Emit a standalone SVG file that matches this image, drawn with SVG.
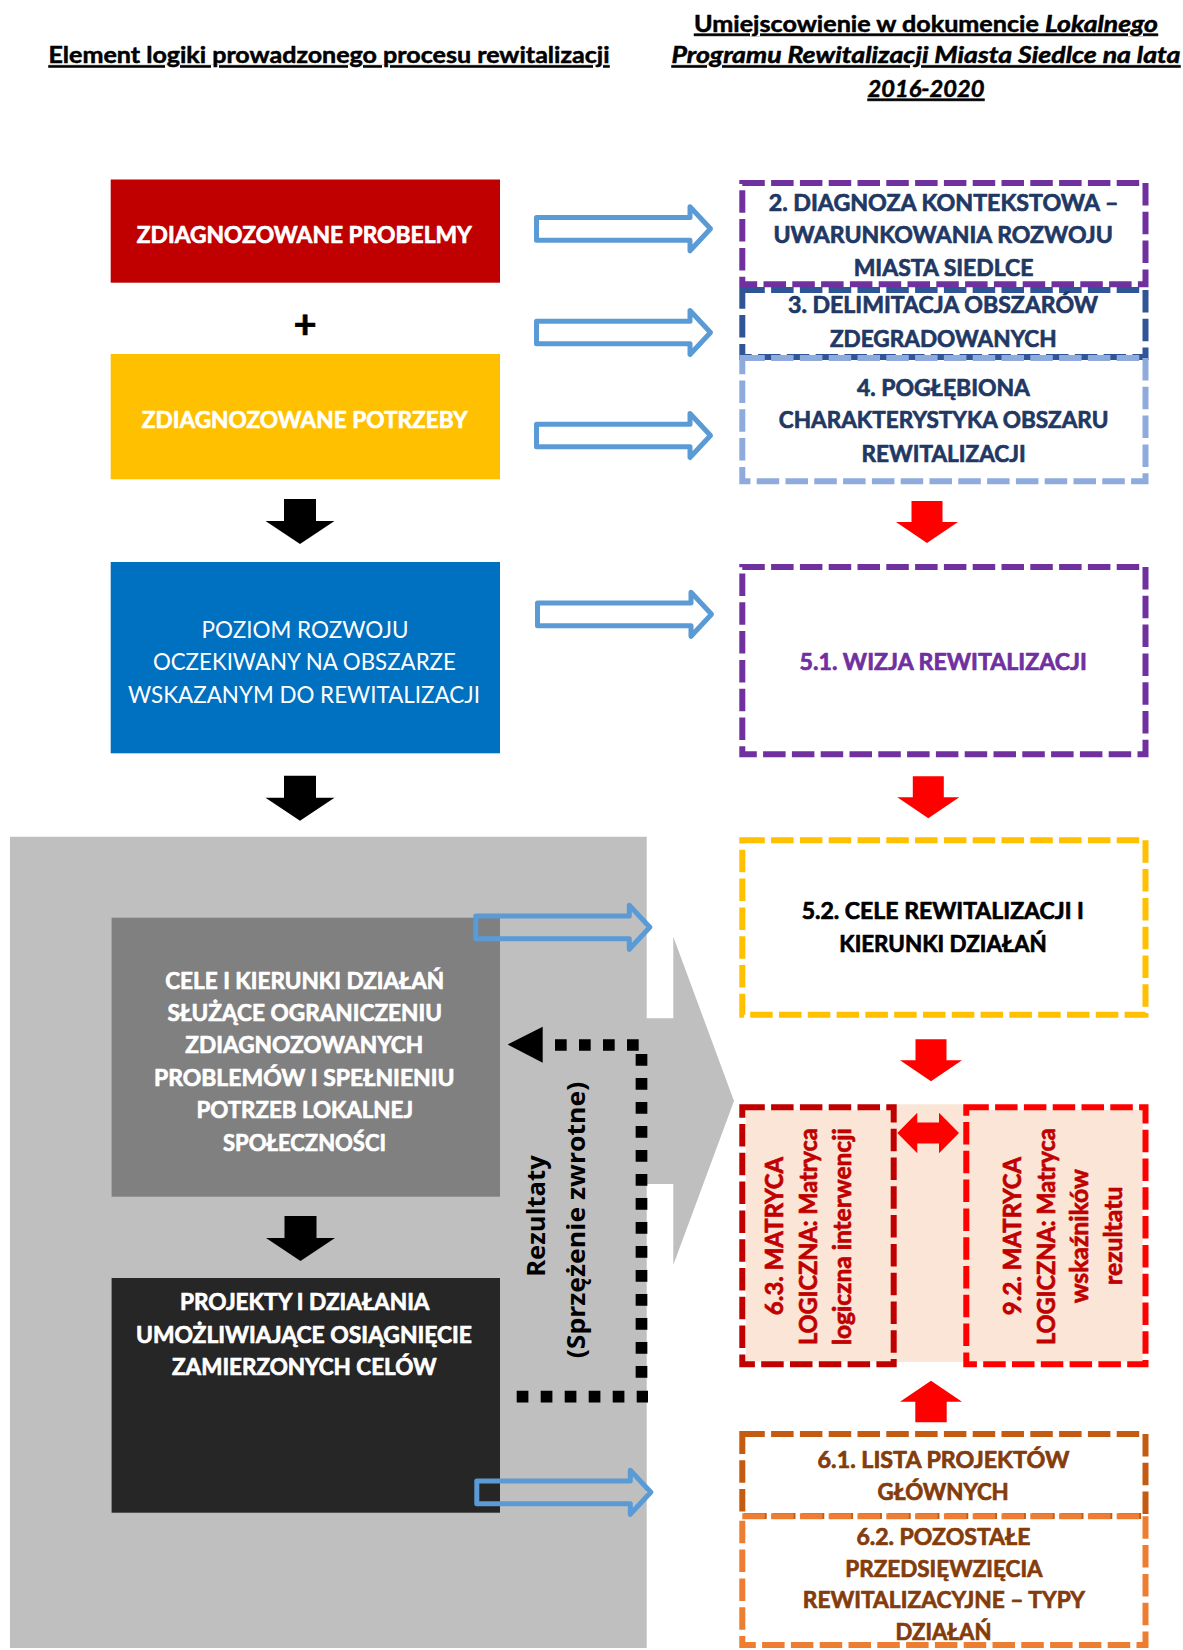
<svg xmlns="http://www.w3.org/2000/svg" xmlns:xlink="http://www.w3.org/1999/xlink" width="1183" height="1650" viewBox="0 0 1183 1650">
<style>
.t{font-family:Lato,"Open Sans","Liberation Sans",sans-serif;font-size:22.5px;font-weight:700;text-anchor:middle;stroke-width:0.7;stroke-linejoin:round}
.w{fill:#ffffff;stroke:#ffffff}
.reg{font-weight:400;stroke:none}
.hd{font-size:22px;text-decoration:underline;text-decoration-skip-ink:none;fill:#000;stroke:#000;stroke-width:0.5}
.it{font-style:italic}
.navy{fill:#1F3864;stroke:#1F3864}
.pur{fill:#7030A0;stroke:#7030A0}
.blk{fill:#000;stroke:#000}
.mx{font-size:24px;fill:#C00000;stroke:#C00000}
.br{fill:#843C0C;stroke:#843C0C}
.rz{font-family:"Open Sans",Lato,sans-serif;font-size:25px;font-weight:700;text-anchor:middle;fill:#000}
.box{fill:none;stroke-width:6;stroke-dasharray:22.5 6.3}
.ba{fill:none;stroke:#5B9BD5;stroke-width:5;stroke-linejoin:round}
.dot{fill:none;stroke:#000;stroke-width:11.7;stroke-dasharray:11.7 12.3}
</style>
<defs>
<path id="ba" d="M2.5,-11.35 H156 V-22 L176.5,0 L156,22 V11.35 H2.5 Z"/>
<polygon id="bd" points="-16,0 16,0 16,22 34.5,22 0,45 -34.5,22 -16,22"/>
<polygon id="rd" points="-15.5,0 15.5,0 15.5,21 31,21 0,42 -31,21 -15.5,21"/>
</defs>
<rect width="1183" height="1650" fill="#ffffff"/>

<g id="headings">
<text class="t hd" x="329" y="63.3" textLength="561" lengthAdjust="spacingAndGlyphs">Element logiki prowadzonego procesu rewitalizacji</text>
<text class="t hd" x="694" y="31.7" style="text-anchor:start"><tspan textLength="351" lengthAdjust="spacingAndGlyphs">Umiejscowienie w dokumencie </tspan><tspan class="it" x="1045" textLength="113" lengthAdjust="spacingAndGlyphs">Lokalnego</tspan></text>
<text class="t hd it" x="926" y="63.3" textLength="509" lengthAdjust="spacingAndGlyphs">Programu Rewitalizacji Miasta Siedlce na lata</text>
<text class="t hd it" x="926" y="96.7" textLength="117" lengthAdjust="spacingAndGlyphs">2016-2020</text>
</g>

<g id="gray-area">
<path d="M10,836.7 H646.7 V1018.3 H673.3 V936.7 L734,1101 L673.3,1265 V1184 H646.7 V1648 H10 Z" fill="#BFBFBF"/>
</g>

<g id="problemy">
<rect x="110.7" y="179.5" width="389.3" height="103.2" fill="#C00000"/>
<text class="t w" x="304.3" y="242.7" textLength="335" lengthAdjust="spacingAndGlyphs">ZDIAGNOZOWANE PROBELMY</text>
</g>
<g id="plus">
<text class="t blk" x="305" y="338" style="font-size:40px">+</text>
</g>
<g id="potrzeby">
<rect x="110.7" y="354" width="389.3" height="125.3" fill="#FFC000"/>
<text class="t w" x="304.8" y="428.3" textLength="326" lengthAdjust="spacingAndGlyphs">ZDIAGNOZOWANE POTRZEBY</text>
</g>
<g id="poziom">
<rect x="110.7" y="562" width="389.3" height="191.3" fill="#0070C0"/>
<text class="t w reg" x="305" y="637.7" textLength="207" lengthAdjust="spacingAndGlyphs">POZIOM ROZWOJU</text>
<text class="t w reg" x="304.4" y="670" textLength="303" lengthAdjust="spacingAndGlyphs">OCZEKIWANY NA OBSZARZE</text>
<text class="t w reg" x="304" y="702.7" textLength="352" lengthAdjust="spacingAndGlyphs">WSKAZANYM DO REWITALIZACJI</text>
</g>
<g id="cele">
<rect x="111.6" y="917.7" width="388.4" height="279" fill="#808080"/>
<text class="t w" x="304.7" y="989.3" textLength="279" lengthAdjust="spacingAndGlyphs">CELE I KIERUNKI DZIAŁAŃ</text>
<text class="t w" x="304.7" y="1021" textLength="274.6" lengthAdjust="spacingAndGlyphs">SŁUŻĄCE OGRANICZENIU</text>
<text class="t w" x="304.3" y="1053.3" textLength="238" lengthAdjust="spacingAndGlyphs">ZDIAGNOZOWANYCH</text>
<text class="t w" x="304.3" y="1085.7" textLength="300.5" lengthAdjust="spacingAndGlyphs">PROBLEMÓW I SPEŁNIENIU</text>
<text class="t w" x="304.7" y="1118.3" textLength="216.6" lengthAdjust="spacingAndGlyphs">POTRZEB LOKALNEJ</text>
<text class="t w" x="304.5" y="1150.7" textLength="163" lengthAdjust="spacingAndGlyphs">SPOŁECZNOŚCI</text>
</g>
<g id="projekty">
<rect x="111.6" y="1278" width="388.4" height="234.7" fill="#262626"/>
<text class="t w" x="304.8" y="1310" textLength="249.5" lengthAdjust="spacingAndGlyphs">PROJEKTY I DZIAŁANIA</text>
<text class="t w" x="304" y="1342.7" textLength="336" lengthAdjust="spacingAndGlyphs">UMOŻLIWIAJĄCE OSIĄGNIĘCIE</text>
<text class="t w" x="304.3" y="1375" textLength="264.6" lengthAdjust="spacingAndGlyphs">ZAMIERZONYCH CELÓW</text>
</g>

<g id="rezultaty">
<text class="rz" transform="translate(545,1216) rotate(-90)" textLength="121.7" lengthAdjust="spacingAndGlyphs">Rezultaty</text>
<text class="rz" transform="translate(585,1220) rotate(-90)" textLength="276.6" lengthAdjust="spacingAndGlyphs">(Sprzężenie zwrotne)</text>
</g>

<g id="box3">
<rect class="box" x="742.3" y="290" width="403.2" height="67" stroke="#2F5597"/>
<text class="t navy" x="943" y="313.3" textLength="310" lengthAdjust="spacingAndGlyphs">3. DELIMITACJA OBSZARÓW</text>
<text class="t navy" x="943.3" y="346.7" textLength="226.7" lengthAdjust="spacingAndGlyphs">ZDEGRADOWANYCH</text>
</g>
<g id="box2">
<rect class="box" x="742.3" y="183" width="403.2" height="101.3" stroke="#7030A0"/>
<text class="t navy" x="943.6" y="210.7" textLength="349.8" lengthAdjust="spacingAndGlyphs">2. DIAGNOZA KONTEKSTOWA –</text>
<text class="t navy" x="943.2" y="242.7" textLength="339.4" lengthAdjust="spacingAndGlyphs">UWARUNKOWANIA ROZWOJU</text>
<text class="t navy" x="943.6" y="276" textLength="179.9" lengthAdjust="spacingAndGlyphs">MIASTA SIEDLCE</text>
</g>
<g id="box4">
<rect class="box" x="742.3" y="358" width="403.2" height="123.3" stroke="#8FAADC"/>
<text class="t navy" x="943.5" y="395.7" textLength="173" lengthAdjust="spacingAndGlyphs">4. POGŁĘBIONA</text>
<text class="t navy" x="943.6" y="428.3" textLength="329.7" lengthAdjust="spacingAndGlyphs">CHARAKTERYSTYKA OBSZARU</text>
<text class="t navy" x="943.6" y="461.7" textLength="164.2" lengthAdjust="spacingAndGlyphs">REWITALIZACJI</text>
</g>
<g id="wizja">
<rect class="box" x="742.3" y="567" width="403.2" height="187.3" stroke="#7030A0"/>
<text class="t pur" x="943.2" y="670" textLength="287.2" lengthAdjust="spacingAndGlyphs">5.1. WIZJA REWITALIZACJI</text>
</g>
<g id="cele-rew">
<rect class="box" x="742.3" y="840.3" width="403.2" height="174.4" stroke="#FFC000"/>
<text class="t blk" x="942.8" y="919.3" textLength="282.3" lengthAdjust="spacingAndGlyphs">5.2. CELE REWITALIZACJI I</text>
<text class="t blk" x="943" y="952.3" textLength="207.4" lengthAdjust="spacingAndGlyphs">KIERUNKI DZIAŁAŃ</text>
</g>
<g id="matryce-tlo">
<rect x="745.7" y="1110" width="397" height="251.7" fill="#FBE5D6"/>
<rect x="893" y="1104.3" width="73" height="257.4" fill="#FBE5D6"/>
</g>
<g id="matryca-63">
<rect class="box" x="742.3" y="1107.3" width="151.4" height="257" stroke="#C00000"/>
<text class="t mx" transform="translate(783.3,1236) rotate(-90)" textLength="158.3" lengthAdjust="spacingAndGlyphs">6.3. MATRYCA</text>
<text class="t mx" transform="translate(817.3,1236.7) rotate(-90)" textLength="216.7" lengthAdjust="spacingAndGlyphs">LOGICZNA: Matryca</text>
<text class="t mx" transform="translate(851,1236.7) rotate(-90)" textLength="216.7" lengthAdjust="spacingAndGlyphs">logiczna interwencji</text>
</g>
<g id="matryca-92">
<rect class="box" x="966.3" y="1107.3" width="179.2" height="257" stroke="#FF0000"/>
<text class="t mx" transform="translate(1020.7,1236) rotate(-90)" textLength="158.3" lengthAdjust="spacingAndGlyphs">9.2. MATRYCA</text>
<text class="t mx" transform="translate(1055,1236.7) rotate(-90)" textLength="216.7" lengthAdjust="spacingAndGlyphs">LOGICZNA: Matryca</text>
<text class="t mx" transform="translate(1088.3,1236.3) rotate(-90)" textLength="134" lengthAdjust="spacingAndGlyphs">wskaźników</text>
<text class="t mx" transform="translate(1121.7,1235.8) rotate(-90)" textLength="98.3" lengthAdjust="spacingAndGlyphs">rezultatu</text>
</g>
<g id="lista-61">
<rect class="box" x="742.3" y="1434" width="403.2" height="82" stroke="#C55A11"/>
<text class="t br" x="943.5" y="1468.3" textLength="251.8" lengthAdjust="spacingAndGlyphs">6.1. LISTA PROJEKTÓW</text>
<text class="t br" x="943.2" y="1500" textLength="131.2" lengthAdjust="spacingAndGlyphs">GŁÓWNYCH</text>
</g>
<g id="pozostale-62">
<rect class="box" x="742.3" y="1516.3" width="403.2" height="128.7" stroke="#ED7D31"/>
<text class="t br" x="943.5" y="1545" textLength="174.2" lengthAdjust="spacingAndGlyphs">6.2. POZOSTAŁE</text>
<text class="t br" x="944" y="1576.7" textLength="197.3" lengthAdjust="spacingAndGlyphs">PRZEDSIĘWZIĘCIA</text>
<text class="t br" x="943.9" y="1608.3" textLength="282.2" lengthAdjust="spacingAndGlyphs">REWITALIZACYJNE – TYPY</text>
<text class="t br" x="943.5" y="1640" textLength="95.9" lengthAdjust="spacingAndGlyphs">DZIAŁAŃ</text>
</g>

<g id="connectors">
<use href="#ba" class="ba" x="534" y="228.8"/>
<use href="#ba" class="ba" x="534" y="332.5"/>
<use href="#ba" class="ba" x="534" y="435.5"/>
<use href="#ba" class="ba" x="535" y="614.3"/>
<use href="#ba" class="ba" x="473.3" y="927.3"/>
<use href="#ba" class="ba" x="474.3" y="1492.3"/>
<use href="#bd" x="300" y="499" fill="#000"/>
<use href="#bd" x="300" y="775.7" fill="#000"/>
<use href="#bd" x="300.5" y="1216" fill="#000"/>
<use href="#rd" x="927" y="501" fill="#FF0000"/>
<use href="#rd" x="928.3" y="776.3" fill="#FF0000"/>
<use href="#rd" x="931" y="1039.3" fill="#FF0000"/>
<polygon points="931,1380.7 962,1401.7 946.7,1401.7 946.7,1422.3 915.3,1422.3 915.3,1401.7 900,1401.7" fill="#FF0000"/>
<polygon points="897.3,1133 917.3,1112.7 917.3,1122.5 939,1122.5 939,1112.7 959,1133 939,1153.3 939,1143.5 917.3,1143.5 917.3,1153.3" fill="#FF0000"/>
<line class="dot" x1="516.7" y1="1396.7" x2="648" y2="1396.7"/>
<line class="dot" x1="641.5" y1="1054" x2="641.5" y2="1390"/>
<line class="dot" x1="555" y1="1045" x2="639" y2="1045"/>
<polygon points="507.7,1044.5 542.7,1026.7 542.7,1062.7" fill="#000"/>
</g>
</svg>
